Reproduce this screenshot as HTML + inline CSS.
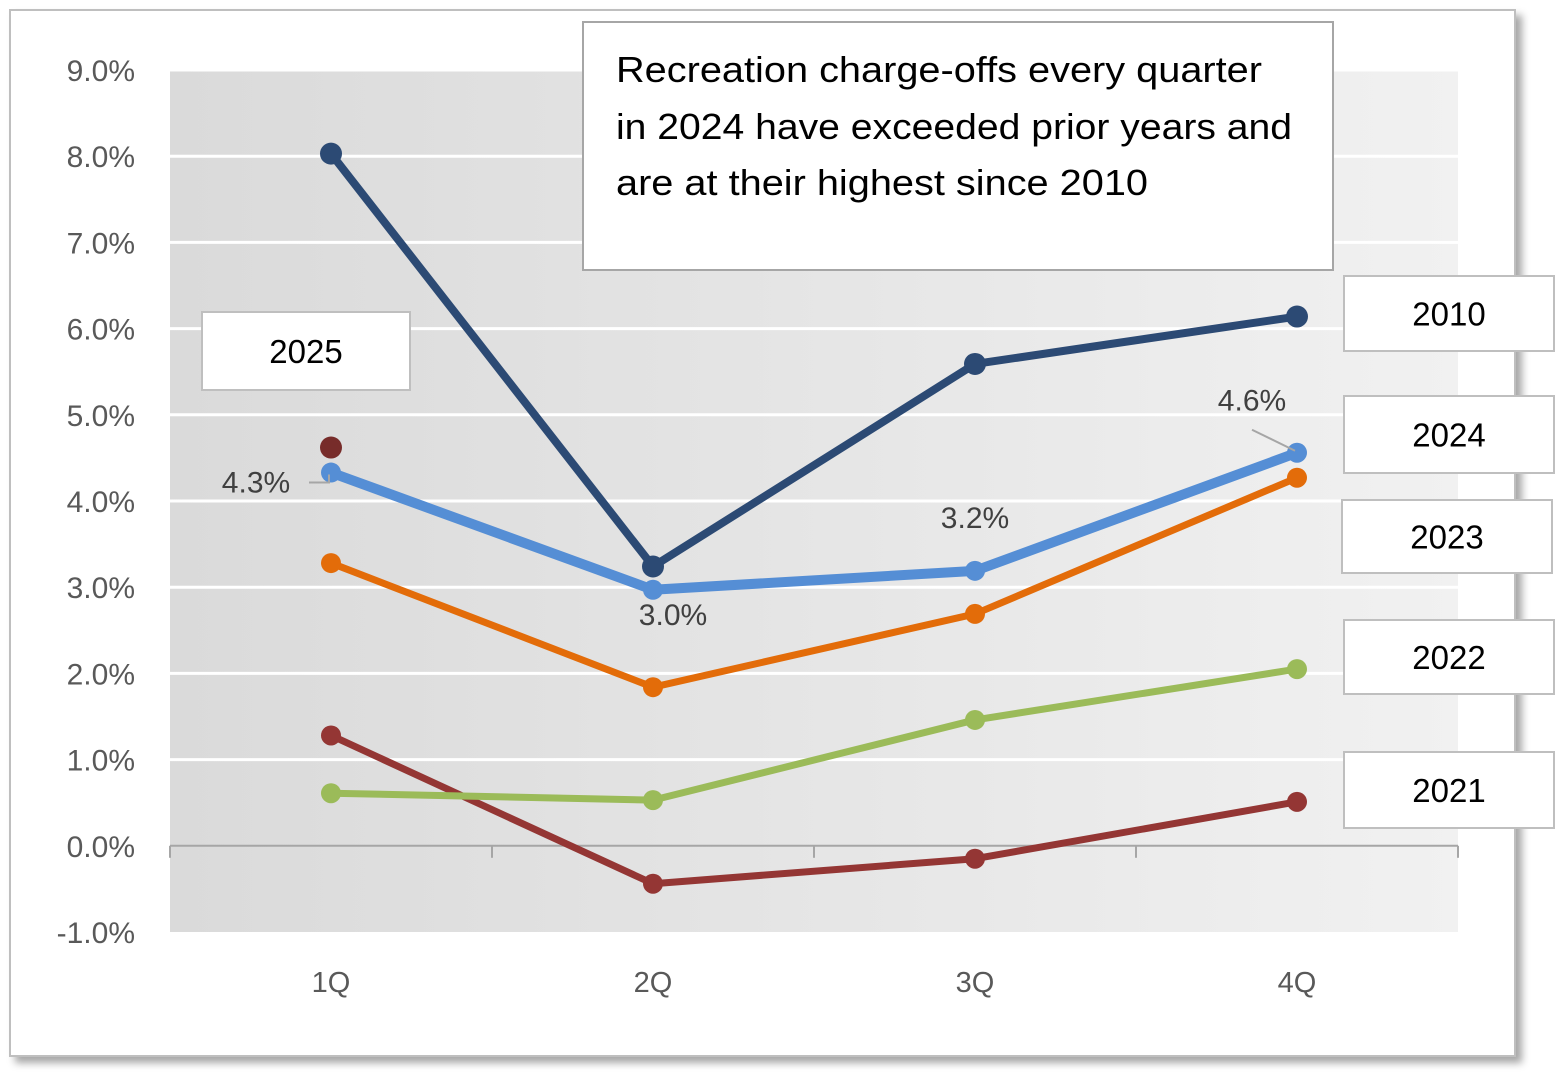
<!DOCTYPE html>
<html><head><meta charset="utf-8"><style>
body{margin:0;width:1556px;height:1086px;background:#fff;overflow:hidden;font-family:"Liberation Sans",sans-serif}
</style></head><body>
<svg width="1556" height="1086">
<defs>
<linearGradient id="bg" x1="0" x2="1" y1="0" y2="0"><stop offset="0" stop-color="#dadada"/><stop offset="1" stop-color="#f1f1f1"/></linearGradient>
<filter id="sh" x="-5%" y="-5%" width="110%" height="110%"><feDropShadow dx="6" dy="6" stdDeviation="4" flood-color="#000" flood-opacity="0.35"/></filter>
</defs>
<rect x="10" y="10" width="1505" height="1046" fill="#fff" stroke="#bfbfbf" stroke-width="2" filter="url(#sh)"/>
<rect x="170" y="70" width="1288" height="862" fill="url(#bg)"/>
<g id="grid"></g><g id="axes"></g><g id="series"></g><g id="labels"></g>
<g>
<rect x="583" y="22" width="750" height="248" fill="#fff" stroke="#a6a6a6" stroke-width="2"/>
<text x="616" y="82" font-size="36" fill="#000" textLength="646" lengthAdjust="spacingAndGlyphs">Recreation charge-offs every quarter</text>
<text x="616" y="139" font-size="36" fill="#000" textLength="676" lengthAdjust="spacingAndGlyphs">in 2024 have exceeded prior years and</text>
<text x="616" y="195" font-size="36" fill="#000" textLength="532" lengthAdjust="spacingAndGlyphs">are at their highest since 2010</text>
</g>
</svg>
<script>
const ns="http://www.w3.org/2000/svg";
const categories=["1Q","2Q","3Q","4Q"];
const yTicks=[-1,0,1,2,3,4,5,6,7,8,9];
const s2010=[8.03,3.24,5.59,6.14];
const s2024=[4.33,2.97,3.19,4.56];
const s2023=[3.28,1.84,2.69,4.27];
const s2022=[0.61,0.53,1.46,2.05];
const s2021=[1.28,-0.44,-0.15,0.51];
const s2025=[4.62];
const valueLabels=[{s:1,i:0,t:"4.3%"},{s:1,i:1,t:"3.0%"},{s:1,i:2,t:"3.2%"},{s:1,i:3,t:"4.6%"}];
const X0=170,X1=1458,Y0=932,Y1=70,ymin=-1,ymax=9;
const xs=i=>X0+(X1-X0)/categories.length*(i+0.5);
const ys=v=>Y0-(v-ymin)/(ymax-ymin)*(Y0-Y1);
function mk(tag,at,parent){const e=document.createElementNS(ns,tag);for(const k in at)e.setAttribute(k,at[k]);document.getElementById(parent).appendChild(e);return e;}
yTicks.forEach(v=>{
 if(v!==0&&v!==-1){const l=mk("line",{x1:X0,x2:X1,y1:ys(v),y2:ys(v),stroke:"#fff","stroke-width":3},"grid");
 
 }
 const t=mk("text",{x:135,y:ys(v)+11,"text-anchor":"end","font-size":30,fill:"#595959"},"axes");
 t.textContent=v.toFixed(1)+"%";
 
 
});
const ax=mk("line",{x1:X0,x2:X1,y1:ys(0),y2:ys(0),stroke:"#a6a6a6","stroke-width":2},"axes");


for(let i=0;i<=categories.length;i++){const x=X0+(X1-X0)/categories.length*i;mk("line",{x1:x,x2:x,y1:ys(0),y2:ys(0)+12,stroke:"#a6a6a6","stroke-width":2},"axes");}
categories.forEach((c,i)=>{const t=mk("text",{x:xs(i),y:992,"text-anchor":"middle","font-size":29,fill:"#595959"},"axes");
 t.textContent=c;
 
 });
const series=[
 {d:s2021,c:"#943634",w:7,r:10,n:"series-2021"},
 {d:s2022,c:"#9bbb59",w:7,r:10,n:"series-2022"},
 {d:s2023,c:"#e36c09",w:7,r:10,n:"series-2023"},
 {d:s2024,c:"#558ed5",w:10,r:10,n:"series-2024"},
 {d:s2010,c:"#2c4a74",w:8,r:11,n:"series-2010"},
 {d:s2025,c:"#772c2a",w:7,r:11,n:"series-2025"}];
series.forEach(s=>{
 const g=mk("g",{},"series");
 
 
 if(s.d.length>1){const p=document.createElementNS(ns,"polyline");p.setAttribute("points",s.d.map((v,i)=>xs(i)+","+ys(v)).join(" "));p.setAttribute("fill","none");p.setAttribute("stroke",s.c);p.setAttribute("stroke-width",s.w);p.setAttribute("stroke-linejoin","round");g.appendChild(p);}
 s.d.forEach((v,i)=>{const c=document.createElementNS(ns,"circle");c.setAttribute("cx",xs(i));c.setAttribute("cy",ys(v));c.setAttribute("r",s.r);c.setAttribute("fill",s.c);g.appendChild(c);});
});
const off=[[-75,20],[20,35],[0,-43],[-45,-42]];
valueLabels.forEach((L,k)=>{
 const x=xs(L.i),y=ys(s2024[L.i]);
 const t=mk("text",{x:x+off[k][0],y:y+off[k][1],"text-anchor":"middle","font-size":30,fill:"#404040"},"labels");
 t.textContent=L.t;
 
 
});
mk("polyline",{points:`${xs(0)-22},${ys(s2024[0])+10} ${xs(0)-2},${ys(s2024[0])+10} ${xs(0)-2},${ys(s2024[0])+2}`,fill:"none",stroke:"#a6a6a6","stroke-width":2},"labels");
mk("line",{x1:xs(3)-45,y1:ys(s2024[3])-23,x2:xs(3)-2,y2:ys(s2024[3])-2,stroke:"#a6a6a6","stroke-width":2},"labels");
const legendNames=["2025","2010","2024","2023","2022","2021"];
const boxes=[[202,312,208,78],[1344,276,210,75],[1344,396,210,77],[1342,500,210,73],[1344,620,210,74],[1344,752,210,76]];
legendNames.forEach((n,k)=>{const b=boxes[k];
 const g=mk("g",{},"labels");
 
 
 const r=document.createElementNS(ns,"rect");r.setAttribute("x",b[0]);r.setAttribute("y",b[1]);r.setAttribute("width",b[2]);r.setAttribute("height",b[3]);r.setAttribute("fill","#fff");r.setAttribute("stroke","#bfbfbf");r.setAttribute("stroke-width",2);g.appendChild(r);
 const t=document.createElementNS(ns,"text");t.setAttribute("x",b[0]+b[2]/2);t.setAttribute("y",b[1]+b[3]/2+12);t.setAttribute("text-anchor","middle");t.setAttribute("font-size",33);t.textContent=n;g.appendChild(t);
});
</script>
</body></html>
